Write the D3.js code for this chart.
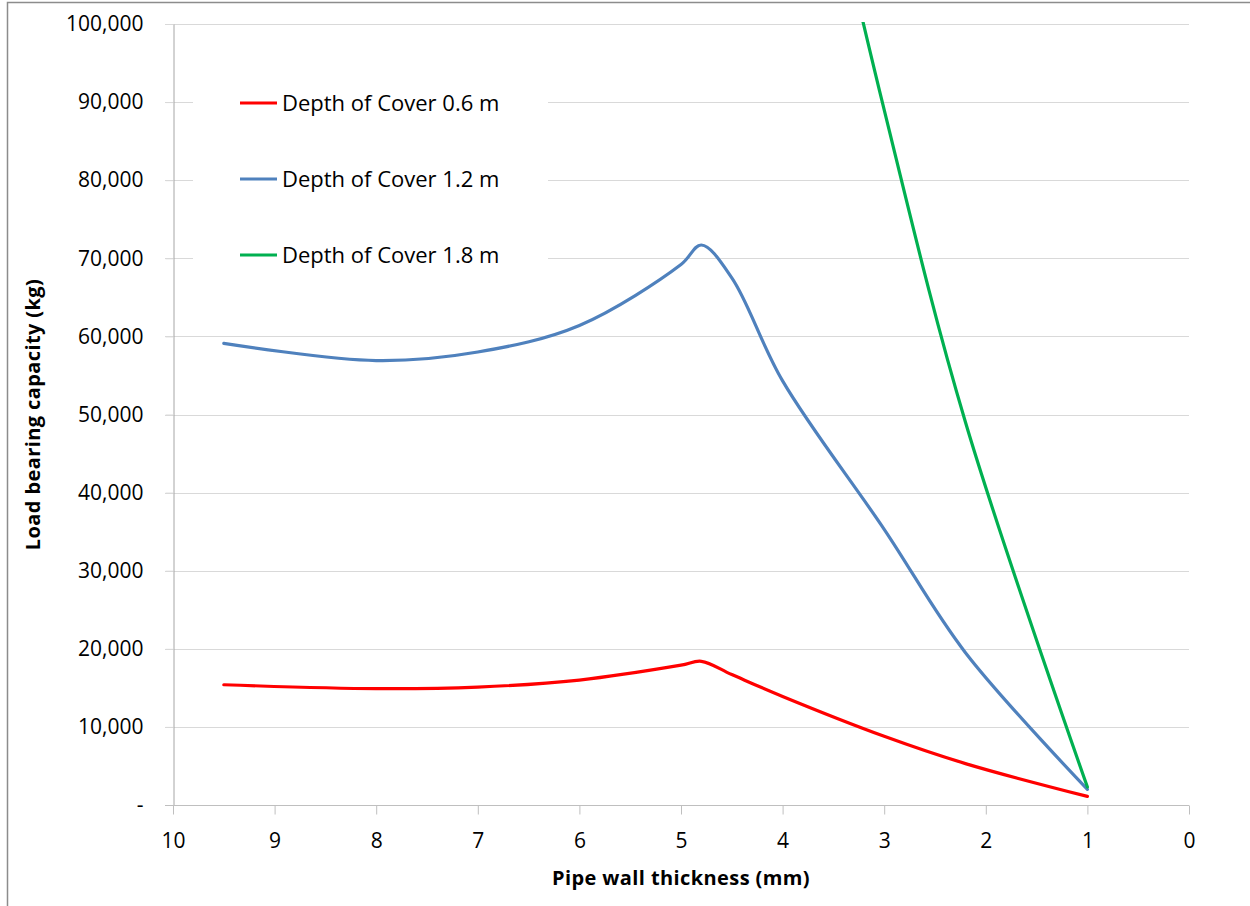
<!DOCTYPE html>
<html>
<head>
<meta charset="utf-8">
<script src="https://cdn.jsdelivr.net/npm/d3@7"></script>
<style>
  body { margin: 0; background: #fff; }
  svg { display: block; font-family: 'Open Sans', sans-serif; }
</style>
</head>
<body>
<svg id="chart"></svg>
<script>
// pipe wall thickness (mm)
var thickness = [9.5, 8, 7, 6, 5, 4.8, 4.5, 4, 3, 2.2, 1];
// load bearing capacity (kg) per depth of cover
var cover06 = [15400, 14900, 15100, 16000, 17900, 18400, 16700, 13900, 8800, 5300, 1100];
var cover12 = [59100, 56900, 58000, 61400, 69200, 71700, 67500, 54300, 35300, 19500, 2000];
var cover18 = [null, null, null, null, null, null, null, 145000, 89000, 49000, 2300];

var seriesNames = ['Depth of Cover 0.6 m', 'Depth of Cover 1.2 m', 'Depth of Cover 1.8 m'];
var seriesColors = ['#ff0000', '#4f81bd', '#00b050'];
var xTicks = [10, 9, 8, 7, 6, 5, 4, 3, 2, 1, 0];
var yTicks = [0, 10000, 20000, 30000, 40000, 50000, 60000, 70000, 80000, 90000, 100000];

var W = 1250, H = 906;
var plotL = 173, plotR = 1189, plotT = 24, plotB = 805;

var svg = d3.select('#chart')
    .attr('width', W)
    .attr('height', H);

// outer frame
svg.append('rect')
    .attr('x', 7.5).attr('y', 2.5)
    .attr('width', W).attr('height', H)
    .attr('fill', 'none')
    .attr('stroke', '#8c8c8c')
    .attr('stroke-width', 1.5);

var x = d3.scaleLinear().domain([10, 0]).range([plotL, plotR]);
var y = d3.scaleLinear().domain([0, 100000]).range([plotB, plotT]);

// gridlines
svg.append('g')
    .selectAll('line')
    .data(yTicks.filter(function (d) { return d > 0; }))
    .enter().append('line')
    .attr('x1', plotL - 8).attr('x2', plotR)
    .attr('y1', function (d) { return Math.round(y(d)) + 0.5; })
    .attr('y2', function (d) { return Math.round(y(d)) + 0.5; })
    .attr('stroke', '#d9d9d9')
    .attr('stroke-width', 1);

// y axis
var yAxis = d3.axisLeft(y)
    .tickValues(yTicks)
    .tickSize(8)
    .tickSizeOuter(0)
    .tickPadding(22)
    .tickFormat(function (d) { return d === 0 ? '-' : d3.format(',')(d); });

var gy = svg.append('g')
    .attr('transform', 'translate(' + (plotL + 0.5) + ',0)')
    .call(yAxis);
gy.select('.domain').attr('stroke', '#a6a6a6');
gy.selectAll('.tick line').attr('stroke', '#d9d9d9');
gy.selectAll('text')
    .attr('fill', '#000')
    .style('font-size', '21px')
    .style('font-family', "'Open Sans', sans-serif");

// x axis
var xAxis = d3.axisBottom(x)
    .tickValues(xTicks)
    .tickSize(9)
    .tickSizeOuter(0)
    .tickPadding(19)
    .tickFormat(d3.format('d'));

var gx = svg.append('g')
    .attr('transform', 'translate(0,' + (plotB + 0.5) + ')')
    .call(xAxis);
gx.select('.domain').attr('stroke', '#bfbfbf').attr('d', 'M' + (plotL - 8) + ',0H' + plotR);
gx.selectAll('.tick line').attr('stroke', '#bfbfbf');
gx.selectAll('text')
    .attr('fill', '#000')
    .style('font-size', '21px')
    .style('font-family', "'Open Sans', sans-serif");

// clip for lines
svg.append('clipPath').attr('id', 'plot-clip')
    .append('rect')
    .attr('x', plotL).attr('y', plotT - 2)
    .attr('width', plotR - plotL).attr('height', plotB - plotT + 4);

var line = d3.line()
    .defined(function (d) { return d[1] !== null; })
    .x(function (d) { return x(d[0]); })
    .y(function (d) { return y(d[1]); })
    .curve(d3.curveCatmullRom.alpha(0.5));

var series = [cover06, cover12, cover18];

svg.append('g')
    .attr('clip-path', 'url(#plot-clip)')
    .selectAll('path')
    .data(series)
    .enter().append('path')
    .attr('d', function (vals) {
        return line(thickness.map(function (t, i) { return [t, vals[i]]; }));
    })
    .attr('fill', 'none')
    .attr('stroke', function (d, i) { return seriesColors[i]; })
    .attr('stroke-width', 3.2)
    .attr('stroke-linejoin', 'round')
    .attr('stroke-linecap', 'round');

// legend (white box over the gridlines)
var legend = svg.append('g');
legend.append('rect')
    .attr('x', 193).attr('y', 70)
    .attr('width', 355).attr('height', 220)
    .attr('fill', '#fff');

var items = legend.selectAll('g.item')
    .data(seriesNames)
    .enter().append('g')
    .attr('class', 'item')
    .attr('transform', function (d, i) { return 'translate(240,' + (103 + i * 76) + ')'; });

items.append('line')
    .attr('x1', 0).attr('x2', 37)
    .attr('stroke', function (d, i) { return seriesColors[i]; })
    .attr('stroke-width', 3.2);

items.append('text')
    .attr('x', 42)
    .attr('dy', '0.35em')
    .style('font-size', '22px')
    .attr('fill', '#000')
    .text(function (d) { return d; });

// axis titles
svg.append('text')
    .attr('x', (plotL + plotR) / 2)
    .attr('y', 885)
    .attr('text-anchor', 'middle')
    .style('font-size', '20px')
    .style('letter-spacing', '0.4px')
    .style('font-weight', 'bold')
    .text('Pipe wall thickness (mm)');

svg.append('text')
    .attr('transform', 'translate(40,' + ((plotT + plotB) / 2) + ') rotate(-90)')
    .attr('text-anchor', 'middle')
    .style('font-size', '20px')
    .style('letter-spacing', '0.4px')
    .style('font-weight', 'bold')
    .text('Load bearing capacity (kg)');
</script>
</body>
</html>
